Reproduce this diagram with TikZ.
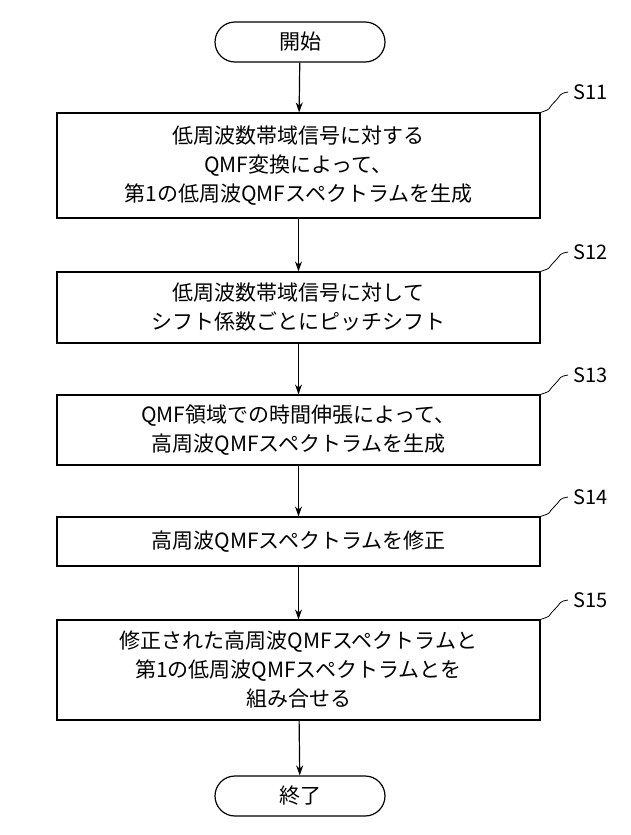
\documentclass[tikz,border=0pt]{standalone}
\usepackage{fontspec}
\usetikzlibrary{calc,arrows.meta}
\setmainfont{Noto Sans CJK JP}
\begin{document}
\begin{tikzpicture}[x=1pt,y=-1pt,
 box/.style={draw,line width=1.2pt,minimum width=483pt,align=center,font=\fontsize{21}{29}\selectfont,inner sep=0pt},
 term/.style={draw,line width=1.2pt,rounded corners=20pt,minimum width=170pt,minimum height=40pt,font=\fontsize{21}{29}\selectfont},
 arr/.style={line width=1.2pt,-{Stealth[length=10pt,width=7pt]}},
 lab/.style={font=\fontsize{20}{22}\selectfont,anchor=west},
 lead/.style={line width=0.8pt}]
\useasboundingbox (0,0) rectangle (630,835);
\node[term] (st) at (300,42) {開始};
\node[box,minimum height=105pt] (s11) at (298.5,165.5) {低周波数帯域信号に対する\\QMF変換によって、\\第1の低周波QMFスペクトラムを生成};
\node[box,minimum height=71pt] (s12) at (298.5,307.5) {低周波数帯域信号に対して\\シフト係数ごとにピッチシフト};
\node[box,minimum height=70pt] (s13) at (298.5,430) {QMF領域での時間伸張によって、\\高周波QMFスペクトラムを生成};
\node[box,minimum height=49pt] (s14) at (298.5,541.5) {高周波QMFスペクトラムを修正};
\node[box,minimum height=100pt] (s15) at (298.5,670) {修正された高周波QMFスペクトラムと\\第1の低周波QMFスペクトラムとを\\組み合せる};
\node[term] (en) at (300,796) {終了};
\draw[arr] (st) -- (s11);
\draw[arr] (s11) -- (s12);
\draw[arr] (s12) -- (s13);
\draw[arr] (s13) -- (s14);
\draw[arr] (s14) -- (s15);
\draw[arr] (s15) -- (en);
\foreach \n/\t/\y in {s11/S11/92,s12/S12/252,s13/S13/375,s14/S14/497,s15/S15/600}{
  \node[lab] (l\n) at (570,\y) {\t};
  \coordinate (c\n) at (568,\y);
  \draw[lead] (\n.north east) .. controls +(12,-4) and +(-8,8) .. ($(\n.north east)!0.5!(c\n)$) .. controls +(8,-8) and +(-10,2) .. (c\n);
}
\end{tikzpicture}
\end{document}
